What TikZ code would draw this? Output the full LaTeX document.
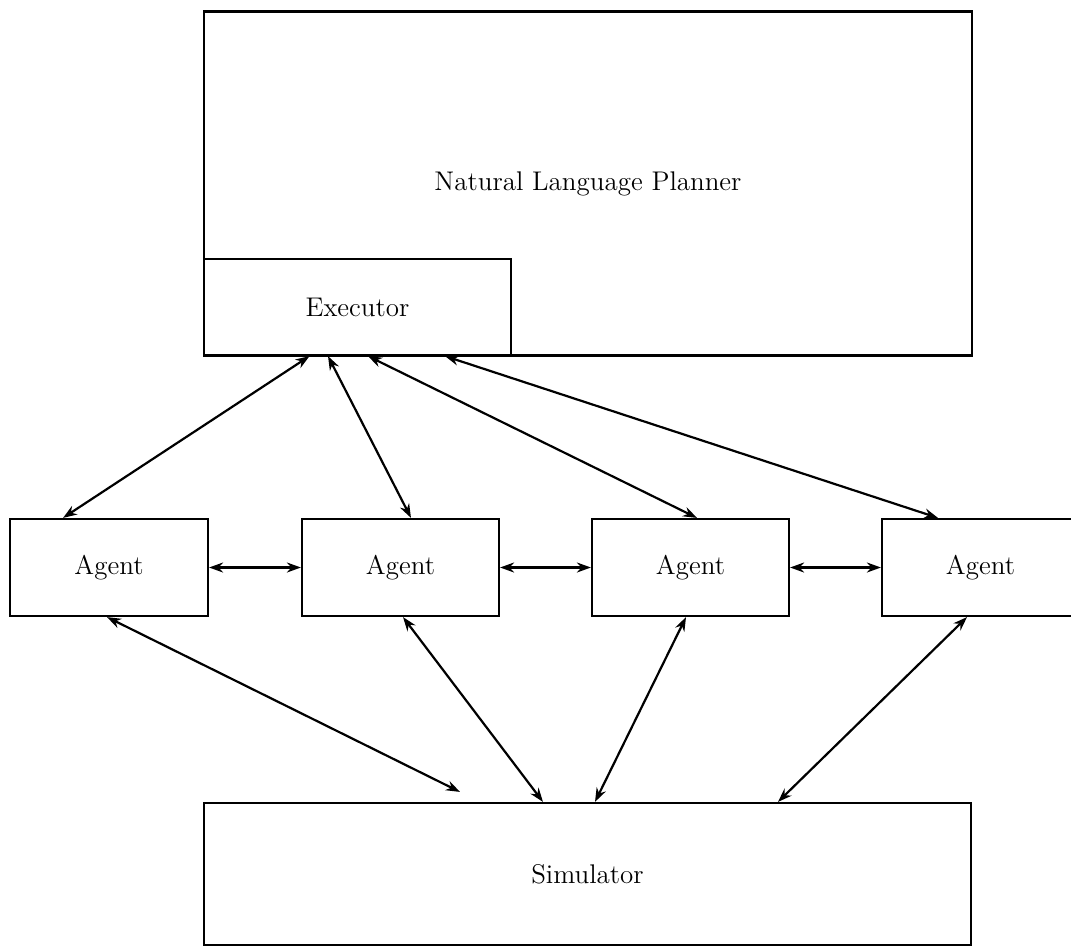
\documentclass[tikz,border=0pt]{standalone}
\usetikzlibrary{arrows.meta}
\begin{document}
\begin{tikzpicture}[x=0.5pt,y=-0.5pt,
  box/.style={draw,line width=1.1pt,inner sep=0pt,font=\fontsize{13.5}{16}\selectfont},
  link/.style={line width=1.1pt,{Stealth[length=7pt,width=5pt]}-{Stealth[length=7pt,width=5pt]}}]
\clip (0,0) rectangle (1071,948);
\node[box,minimum width=384pt,minimum height=172pt] (plan) at (588,183.5) {Natural Language Planner};
\node[box,minimum width=153.5pt,minimum height=48pt] (exec) at (357.5,307) {Executor};
\node[box,minimum width=99pt,minimum height=48.5pt] (a1) at (109,567.5) {Agent};
\node[box,minimum width=98.5pt,minimum height=48.5pt] (a2) at (400.5,567.5) {Agent};
\node[box,minimum width=98.5pt,minimum height=48.5pt] (a3) at (690.5,567.5) {Agent};
\node[box,minimum width=98.5pt,minimum height=48.5pt] (a4) at (980.5,567.5) {Agent};
\node[box,minimum width=383.5pt,minimum height=71pt] (sim) at (587.5,874) {Simulator};
\coordinate (free) at ([xshift=-63.75pt,yshift=5pt]sim.north);
% executor to agents
\draw[link] ([xshift=-23pt]a1.north) -- ([xshift=-24pt]exec.south);
\draw[link] ([xshift=5.25pt]a2.north) -- ([xshift=-14.75pt]exec.south);
\draw[link] ([xshift=3.25pt]a3.north) -- ([xshift=5.25pt]exec.south);
\draw[link] ([xshift=-21.25pt]a4.north) -- ([xshift=43.75pt]exec.south);
% agents to agents
\draw[link] (a1.east) -- (a2.west);
\draw[link] (a2.east) -- (a3.west);
\draw[link] (a3.east) -- (a4.west);
% agents to simulator
\draw[link] ([xshift=-1pt]a1.south) -- (free);
\draw[link] ([xshift=1.25pt]a2.south) -- ([xshift=-22.25pt]sim.north);
\draw[link] ([xshift=-2.25pt]a3.south) -- ([xshift=3.75pt]sim.north);
\draw[link] ([xshift=-6.75pt]a4.south) -- ([xshift=95.25pt]sim.north);
\end{tikzpicture}
\end{document}
